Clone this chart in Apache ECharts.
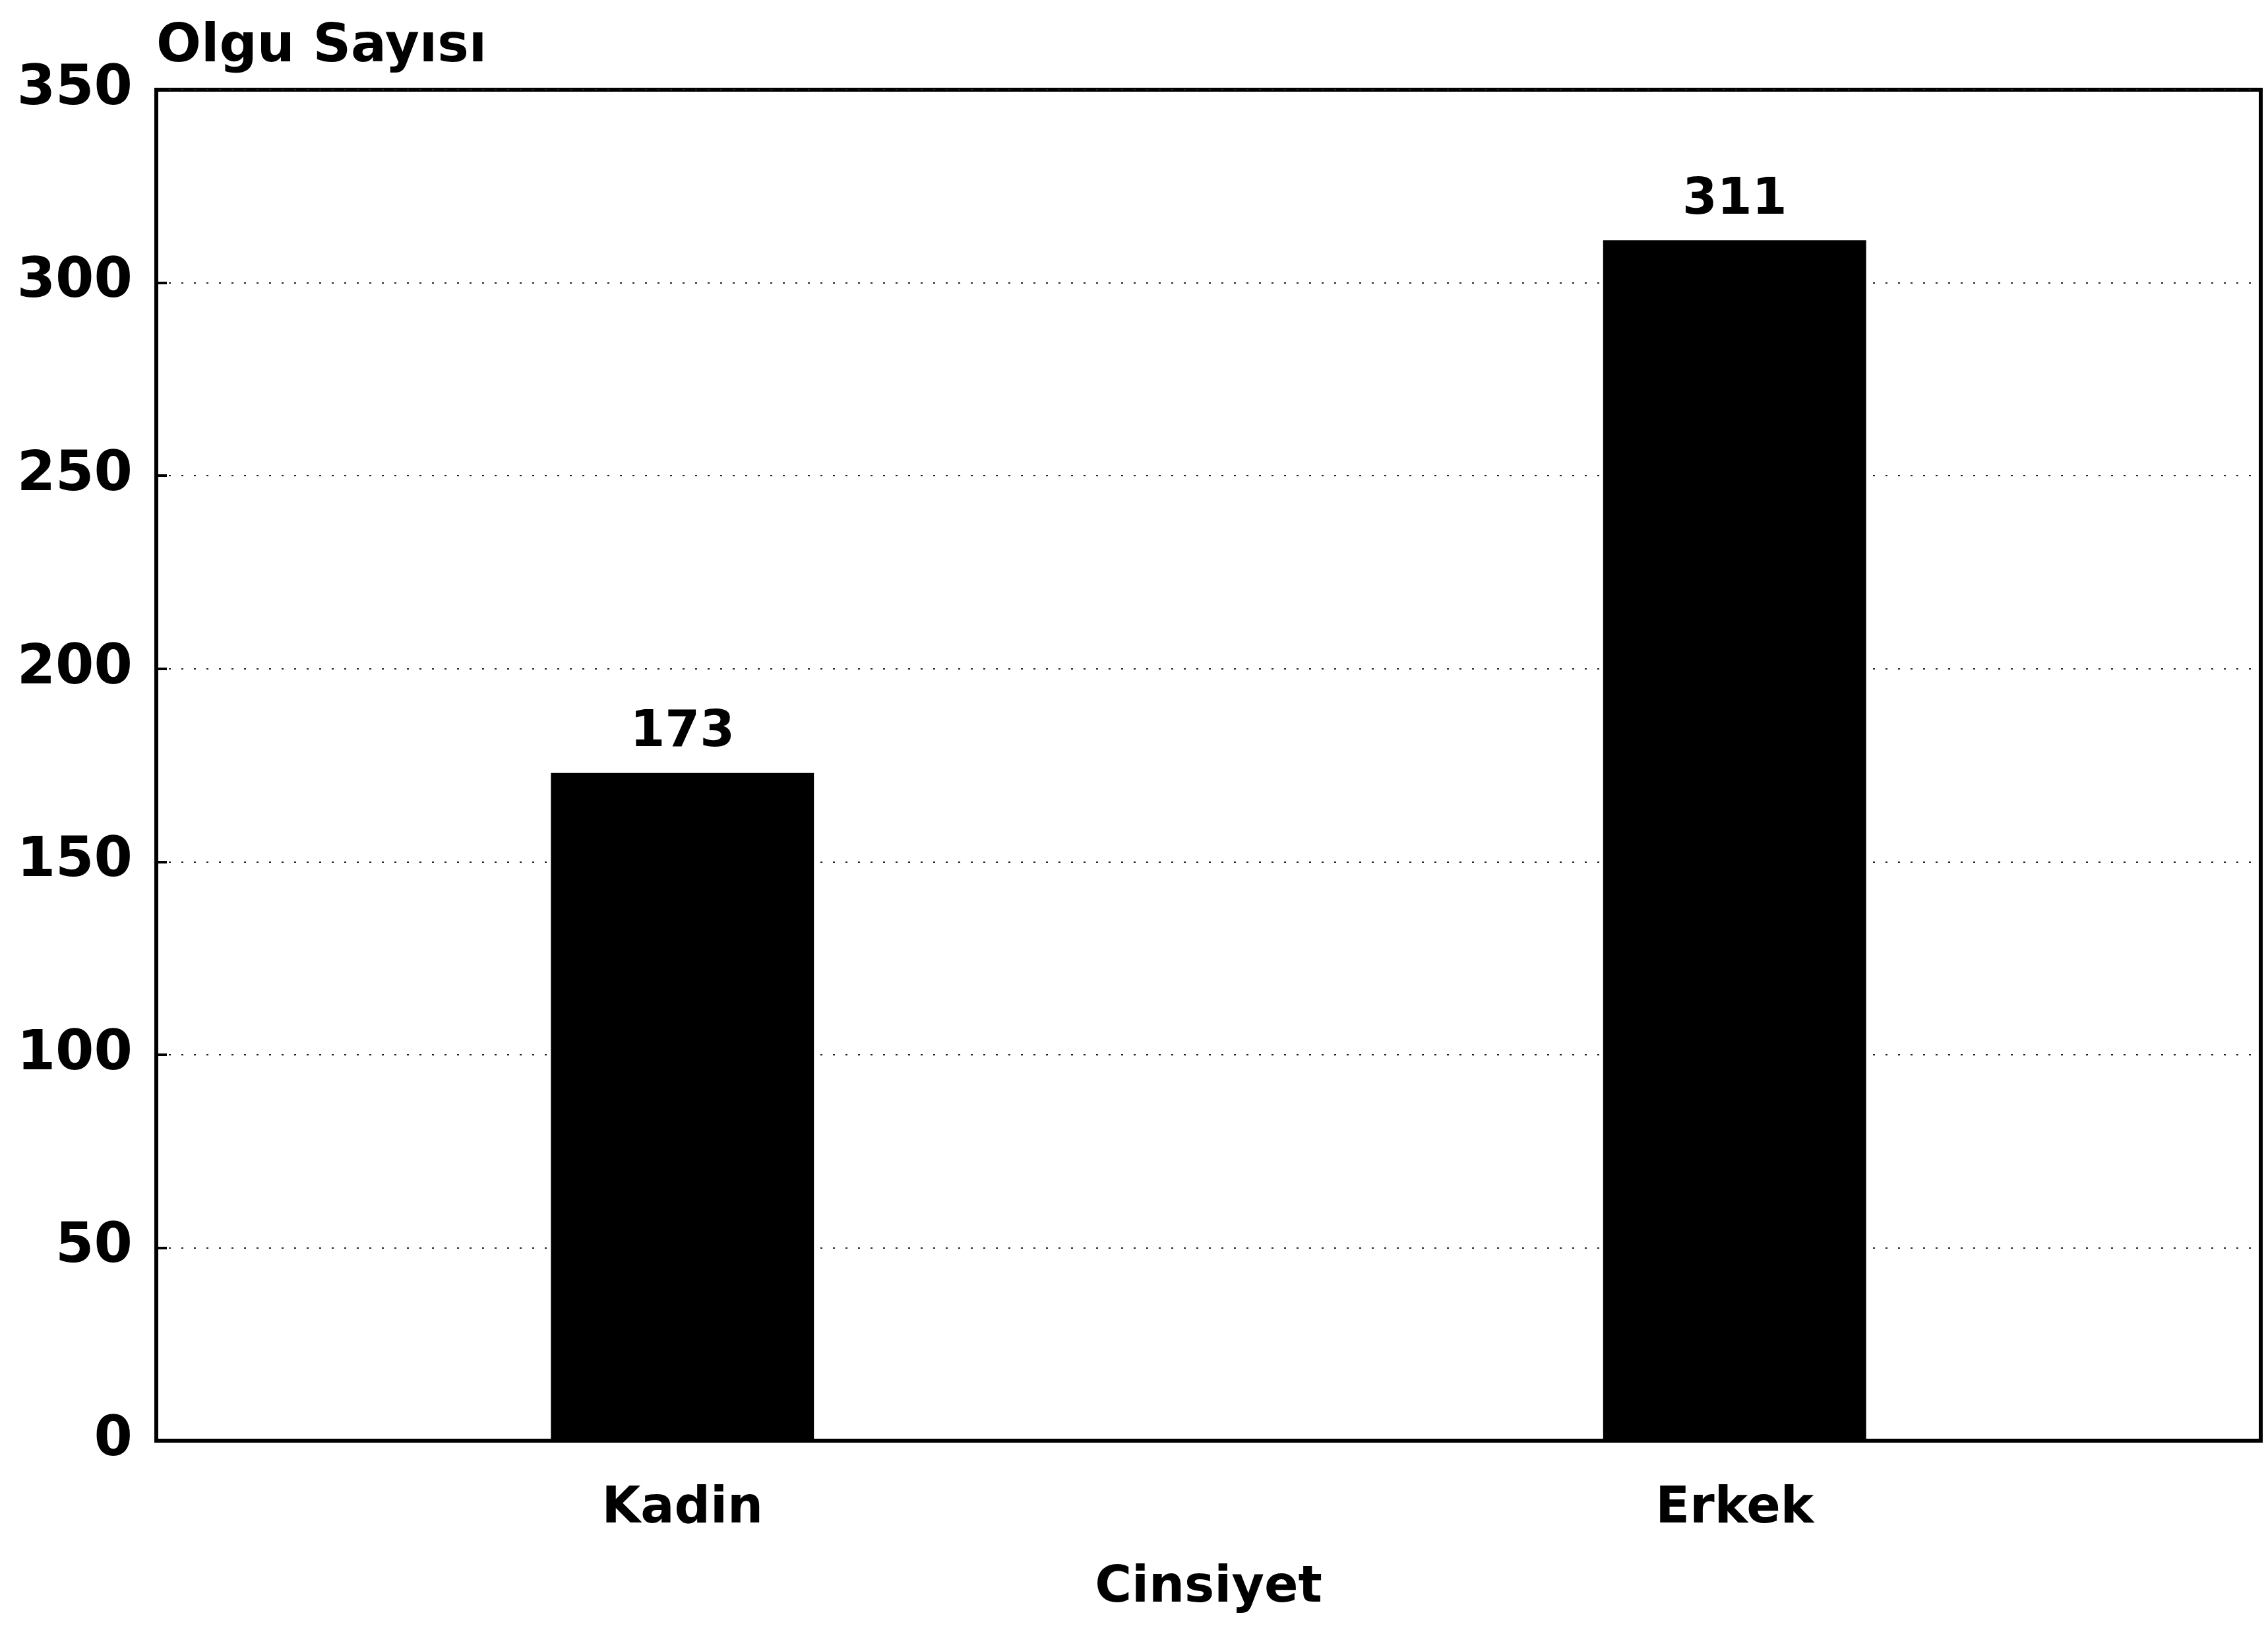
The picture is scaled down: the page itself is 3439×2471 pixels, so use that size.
<!DOCTYPE html>
<html>
<head>
<meta charset="utf-8">
<script src="https://cdn.jsdelivr.net/npm/echarts@6/dist/echarts.min.js"></script>
<style>
  html, body { margin: 0; padding: 0; background: #fff; }
  #main { width: 3439px; height: 2471px; }
</style>
</head>
<body>
<div id="main"></div>
<script>
var categories = ['Kadin', 'Erkek'];
var cases = [173, 311];
var yTicks = [0, 50, 100, 150, 200, 250, 300, 350];

var font = 'DejaVu Sans';
var myChart = echarts.init(document.getElementById('main'));
myChart.setOption({
    animation: false,
    backgroundColor: '#fff',
    grid: {
        left: 237,
        right: 11,
        top: 136,
        bottom: 287,
        show: true,
        borderColor: '#000',
        borderWidth: 6
    },
    xAxis: {
        type: 'category',
        data: categories,
        name: 'Cinsiyet',
        nameLocation: 'middle',
        nameGap: 186,
        nameTextStyle: { fontFamily: font, fontWeight: 'bold', fontSize: 76, color: '#000' },
        axisLine: { lineStyle: { color: '#000', width: 6 } },
        axisTick: { show: false },
        axisLabel: { fontFamily: font, fontWeight: 'bold', fontSize: 76, color: '#000', margin: 66 }
    },
    yAxis: {
        type: 'value',
        min: yTicks[0],
        max: yTicks[yTicks.length - 1],
        interval: 50,
        name: 'Olgu Sayısı',
        nameLocation: 'end',
        nameGap: 24,
        nameTextStyle: { fontFamily: font, fontWeight: 'bold', fontSize: 80, color: '#000', align: 'left', verticalAlign: 'bottom' },
        axisLine: { show: true, lineStyle: { color: '#000', width: 6 } },
        axisTick: { show: true, inside: true, length: 16, lineStyle: { color: '#000', width: 4 } },
        axisLabel: { fontFamily: font, fontWeight: 'bold', fontSize: 84, color: '#000', margin: 36 },
        splitLine: { show: true, lineStyle: { color: '#222', width: 2, type: [3, 16] } }
    },
    series: [
        {
            type: 'bar',
            data: cases,
            barWidth: '25%',
            itemStyle: { color: '#000' },
            label: {
                show: true,
                position: 'top',
                distance: 22,
                fontFamily: font,
                fontWeight: 'bold',
                fontSize: 76,
                color: '#000'
            }
        }
    ]
});
</script>
</body>
</html>
